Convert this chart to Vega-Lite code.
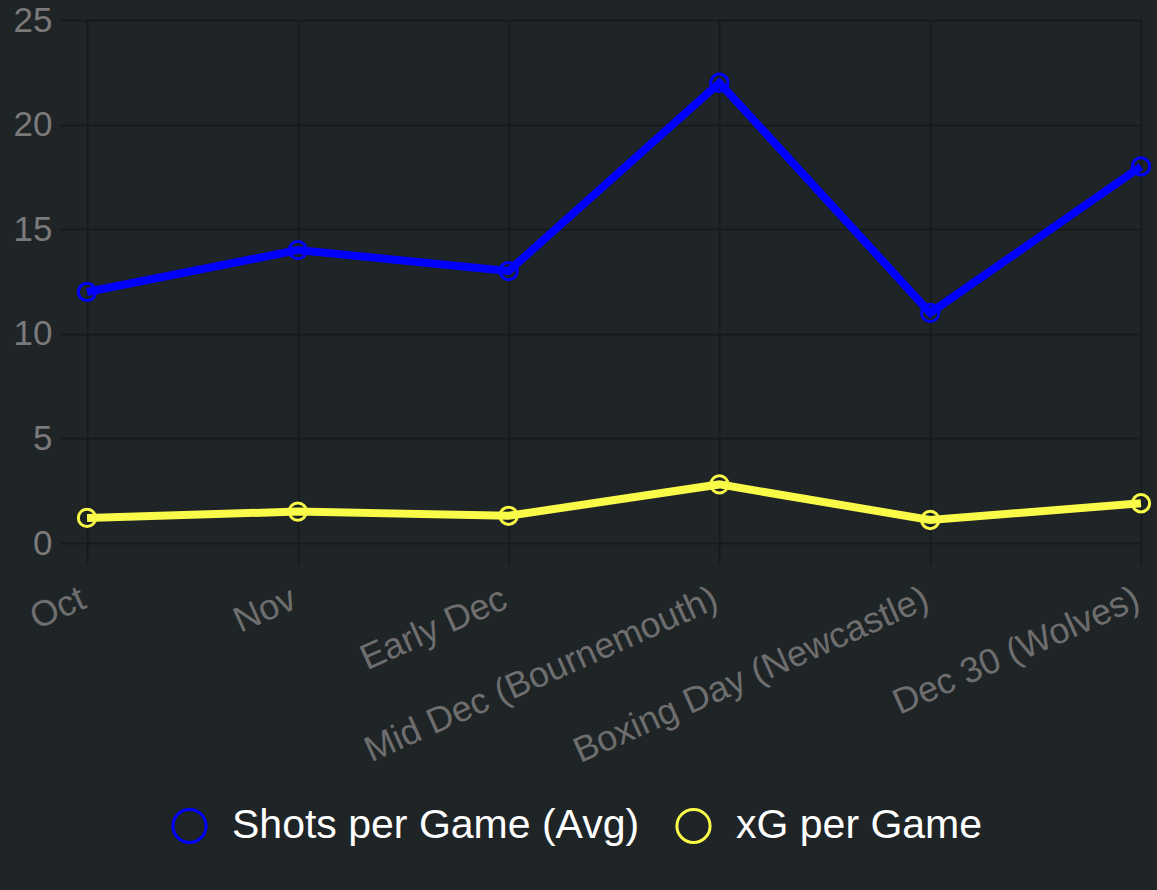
{
  "$schema": "https://vega.github.io/schema/vega-lite/v6.json",
  "width": 1054,
  "height": 523,
  "autosize": {"type": "none"},
  "padding": {"left": 87, "top": 20, "right": 16, "bottom": 347},
  "background": "#1f2427",
  "config": {"view": {"stroke": null}, "font": "Liberation Sans"},
  "data": {
    "values": [
      {"period": "Oct", "series": "Shots per Game (Avg)", "value": 12},
      {"period": "Nov", "series": "Shots per Game (Avg)", "value": 14},
      {"period": "Early Dec", "series": "Shots per Game (Avg)", "value": 13},
      {"period": "Mid Dec (Bournemouth)", "series": "Shots per Game (Avg)", "value": 22},
      {"period": "Boxing Day (Newcastle)", "series": "Shots per Game (Avg)", "value": 11},
      {"period": "Dec 30 (Wolves)", "series": "Shots per Game (Avg)", "value": 18},
      {"period": "Oct", "series": "xG per Game", "value": 1.2},
      {"period": "Nov", "series": "xG per Game", "value": 1.5},
      {"period": "Early Dec", "series": "xG per Game", "value": 1.3},
      {"period": "Mid Dec (Bournemouth)", "series": "xG per Game", "value": 2.8},
      {"period": "Boxing Day (Newcastle)", "series": "xG per Game", "value": 1.1},
      {"period": "Dec 30 (Wolves)", "series": "xG per Game", "value": 1.9}
    ]
  },
  "encoding": {
    "x": {
      "field": "period",
      "type": "nominal",
      "sort": null,
      "scale": {"type": "point", "padding": 0},
      "axis": {
        "title": null,
        "domain": false,
        "grid": true,
        "gridColor": "#171a1c",
        "gridWidth": 2,
        "tickColor": "#171a1c",
        "tickWidth": 2,
        "tickSize": 22,
        "labelAngle": -24,
        "labelAlign": "right",
        "labelBaseline": "top",
        "labelFontSize": 36,
        "labelColor": "#6e6e6e",
        "labelPadding": 16,
        "labelOffset": -11,
        "labelLimit": 0,
        "labelOverlap": false
      }
    },
    "y": {
      "field": "value",
      "type": "quantitative",
      "scale": {"domain": [0, 25], "nice": false},
      "axis": {
        "title": null,
        "values": [0, 5, 10, 15, 20, 25],
        "domain": false,
        "grid": true,
        "gridColor": "#171a1c",
        "gridWidth": 2,
        "tickColor": "#171a1c",
        "tickWidth": 2,
        "tickSize": 27,
        "labelFontSize": 35,
        "labelColor": "#7a7a7a",
        "labelPadding": 8
      }
    },
    "color": {
      "field": "series",
      "type": "nominal",
      "scale": {"domain": ["Shots per Game (Avg)", "xG per Game"], "range": ["#0000ff", "#fafa48"]},
      "legend": {
        "title": null,
        "orient": "none",
        "legendX": 82,
        "legendY": 785,
        "direction": "horizontal",
        "symbolType": "circle",
        "symbolSize": 1100,
        "symbolStrokeWidth": 3,
        "symbolFillColor": "transparent",
        "symbolOpacity": 1,
        "labelFontSize": 41,
        "labelColor": "#ffffff",
        "labelOffset": 22,
        "labelLimit": 0,
        "columnPadding": 30
      }
    }
  },
  "layer": [
    {"mark": {"type": "line", "strokeWidth": 8}},
    {"mark": {"type": "point", "shape": "circle", "filled": false, "size": 300, "strokeWidth": 3, "opacity": 1}}
  ]
}
